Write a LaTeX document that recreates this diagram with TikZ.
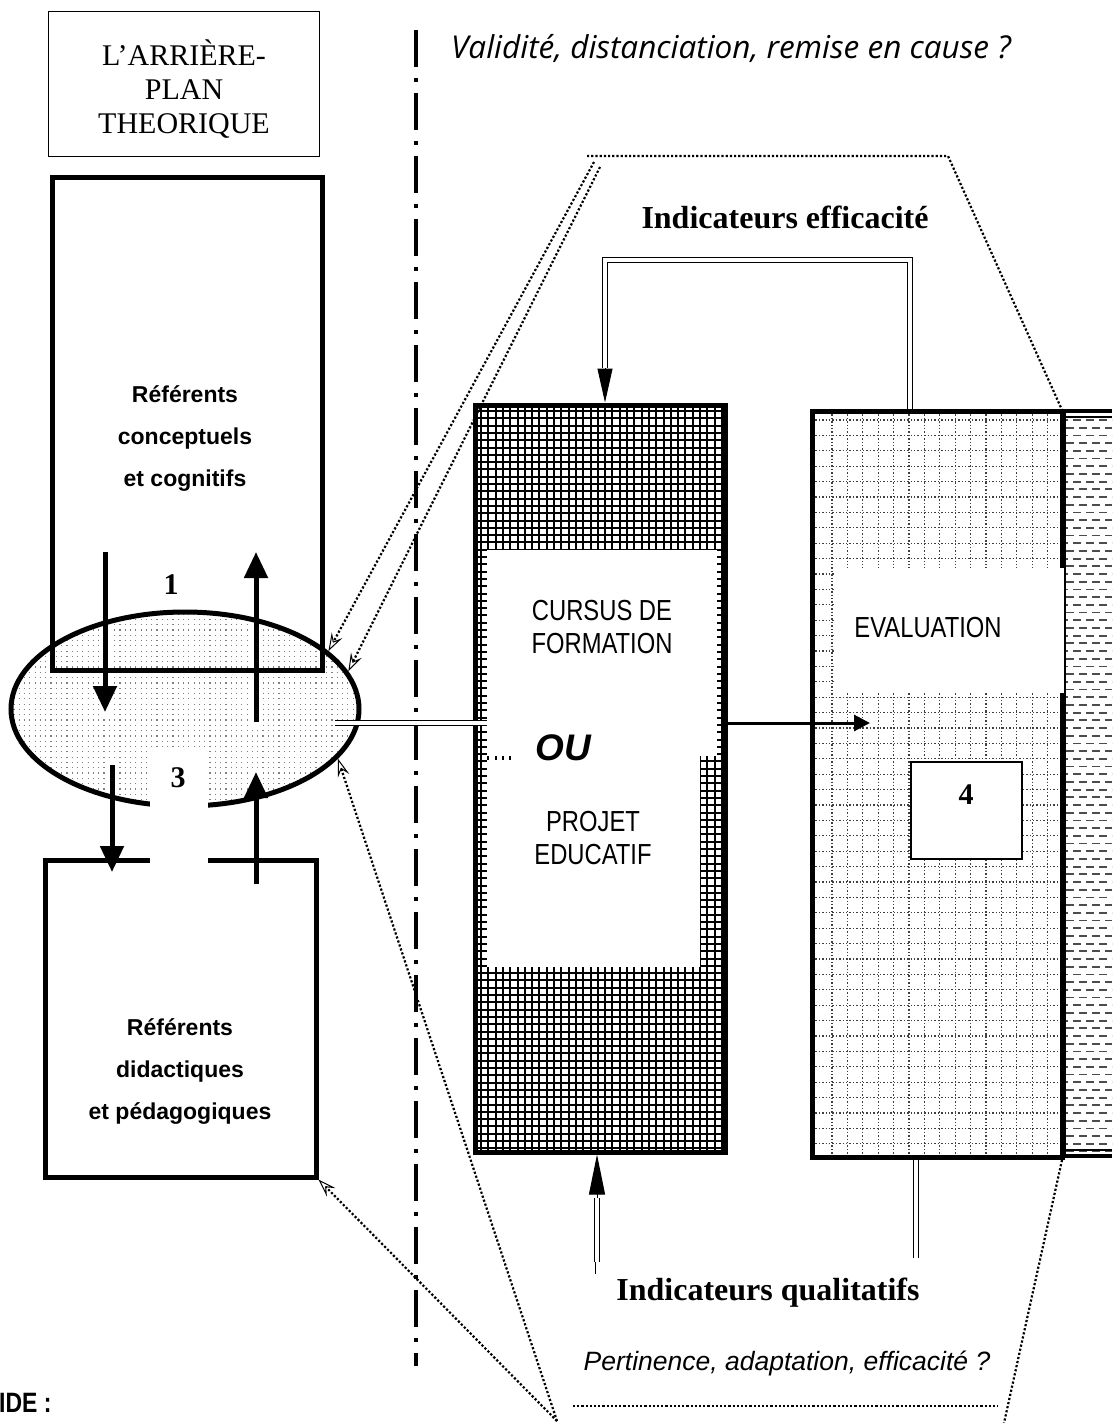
\documentclass[tikz,border=0pt]{standalone}
\usepackage{fontspec}
\setmainfont{Liberation Serif}
\setsansfont{Liberation Sans}
\newfontfamily\narrowsf{Liberation Sans}[FakeStretch=0.82]
\newfontfamily\handfont{Open Sans}
\usetikzlibrary{arrows.meta,positioning,shapes.geometric}
\tikzset{
  heavy/.style={draw, line width=5pt, inner sep=0pt},
  bigarrow/.style={line width=5pt, -{Triangle[length=26pt,width=23pt]}},
  dbl/.style={double, double distance=3.5pt, line width=1.6pt},
  hint/.style={line width=2.2pt, dash pattern=on 2.2pt off 2pt},
  hintarrow/.style={hint, -{Stealth[open,length=18pt,width=12pt,inset=7pt,line width=1pt]}},
  numlab/.style={font=\bfseries\fontsize{30}{30}\selectfont},
  capsf/.style={font=\narrowsf\fontsize{29}{33}\selectfont, align=center},
  refsf/.style={font=\sffamily\bfseries\fontsize{23}{42}\selectfont, align=center},
  indic/.style={font=\bfseries\fontsize{32}{32}\selectfont}
}
\begin{document}
\begin{tikzpicture}[x=1pt,y=-1pt]
\useasboundingbox (0,0) rectangle (1112,1423);

% left column
\node[draw, line width=1.5pt, minimum width=271pt, minimum height=145pt, inner sep=0pt] (theo) at (184,84) {};
\node[align=center, font=\fontsize{30}{34}\selectfont] (theoT) at (184,89) {L’ARRIÈRE-\\PLAN\\THEORIQUE};

\begin{scope}
\clip (185,709) ellipse [x radius=174, y radius=97];
\foreach \y in {614,619.3,...,806}
  \draw[black!50, line width=1.2pt, dash pattern=on 1.2pt off 4.1pt] (8,\y) -- (362,\y);
\draw[white, line width=13pt] (105,552) -- (105,716) (256,726) -- (256,552)
  (112,762) -- (112,872) (256,882) -- (256,768);
\end{scope}
\node[heavy, ellipse, minimum width=348pt, minimum height=194pt] (ell) at (185,709) {};
\node[heavy, minimum width=270pt, minimum height=492pt] (concep) at (187,424) {};
\node[heavy, minimum width=271pt, minimum height=317pt] (didac) at (180.5,1018.5) {};
\fill[white] (150,748) rectangle (208,868);

\node[refsf] (concepT) at (185,438) {Référents\\conceptuels\\et cognitifs};
\node[refsf] (didacT) at (180,1071) {Référents\\didactiques\\et pédagogiques};
\node[numlab] (one) at (171,585) {1};
\node[numlab] (three) at (178,778) {3};

\coordinate (a1) at (105,552); \coordinate (a1e) at (105,712);
\coordinate (a2) at (256,722); \coordinate (a2e) at (256,552);
\coordinate (a3) at (112,765); \coordinate (a3e) at (112,872);
\coordinate (a4) at (256,884); \coordinate (a4e) at (256,772);
\draw[bigarrow] (a1) -- (a1e);
\draw[bigarrow] (a2) -- (a2e);
\draw[bigarrow] (a3) -- (a3e);
\draw[bigarrow] (a4) -- (a4e);

% separation
\coordinate (sepTop) at (416,30); \coordinate (sepBot) at (416,1366);
\draw[line width=3.5pt, dash pattern=on 37pt off 11pt on 4pt off 11pt] (sepTop) -- (sepBot);

% cursus
\begin{scope}
\clip (475,405) rectangle (725,1152);
\foreach \x in {481,488.3,...,724} \draw[line width=2pt] (\x,405) -- (\x,1152);
\foreach \y in {411,418.3,...,1152} \draw[line width=2pt] (475,\y) -- (725,\y);
\end{scope}
\fill[white] (487,550) rectangle (717,756);
\fill[white] (487,760) rectangle (700,967);
\fill[white] (512,738) rectangle (700,778);
\node[heavy, minimum width=250pt, minimum height=747pt] (cursus) at (600,778.5) {};
\node[capsf] (cursusT) at (602,627) {CURSUS DE\\FORMATION};
\node[font=\sffamily\bfseries\itshape\fontsize{37}{37}\selectfont] (ou) at (563,748) {OU};
\node[capsf] (projetT) at (593,838) {PROJET\\EDUCATIF};

% evaluation
\begin{scope}
\clip (812,411) rectangle (1062,1157);
\foreach \x in {832,847.4,...,1060} \draw[black!75, line width=1.3pt, dash pattern=on 1.3pt off 2.1pt] (\x,411) -- (\x,1157);
\foreach \y in {420,435.4,...,1157} \draw[black!75, line width=1.3pt, dash pattern=on 1.3pt off 2.1pt] (812,\y) -- (1062,\y);
\end{scope}
\node[heavy, minimum width=250pt, minimum height=746pt] (eval) at (937,784) {};
\fill[white] (834,568) rectangle (1064,693);
\node[capsf] (evalT) at (928,628) {EVALUATION};
\node[draw, line width=2.5pt, fill=white, minimum width=111pt, minimum height=97pt] (four) at (966.5,810.5) {};
\node[numlab] (fourT) at (966,795) {4};

% last column
\begin{scope}
\clip (1065,411) rectangle (1112,1157);
\foreach \y [count=\i] in {420,427.7,...,1152}
  \draw[black!70, line width=1.8pt, dash pattern=on 8pt off 5pt, dash phase={mod(\i,2)*6}] (1066,\y) -- (1112,\y);
\end{scope}
\draw[line width=4pt] (1060,411) -- (1112,411) (1060,1156) -- (1112,1156);
\draw[line width=1.2pt] (1065,417) -- (1112,417) (1065,1150) -- (1112,1150) (1065,411) -- (1065,1157);

% connectors
\coordinate (ellOut) at (335,723); \coordinate (cursusIn) at (487,723);
\draw[dbl] (ellOut) -- (cursusIn);
\coordinate (evalIn) at (870,723);
\draw[line width=3pt, -{Triangle[length=16pt,width=16pt]}] (cursus.east |- evalIn) -- (evalIn);
\coordinate (evalUp) at (910,409); \coordinate (fbTop) at (605,260); \coordinate (fbDown) at (605,368);
\draw[dbl] (evalUp) |- (fbTop) -- (fbDown);
\draw[line width=1pt, -{Triangle[length=34pt,width=15pt]}] (fbDown) -- (cursus.north -| fbDown);
\coordinate (qualUp) at (597,1262); \coordinate (qualMid) at (597,1198);
\draw[line width=1pt] (595,1274) -- (595,1255);
\draw[dbl] (qualUp) -- (qualMid);
\draw[line width=1pt, -{Triangle[length=40pt,width=16pt]}] (qualMid) -- (cursus.south -| qualMid);
\coordinate (evalDn) at (916,1258);
\draw[dbl] (eval.south -| evalDn) -- (evalDn);

% dotted frame
\coordinate (hxTL) at (587,156); \coordinate (hxTR) at (948,156);
\coordinate (hxR) at (1062,410); \coordinate (hxRb) at (1062,1160);
\coordinate (hxB) at (1004,1423); \coordinate (hxBot) at (557,1421);
\coordinate (hxBl) at (573,1406); \coordinate (hxBr) at (998,1406);
\coordinate (hxL1) at (594,162); \coordinate (hxL2) at (600,167);
\draw[hint] (hxTL) -- (hxTR) -- (hxR);
\draw[hint] (hxRb) -- (hxB);
\draw[hint] (hxBl) -- (hxBr);
\draw[hintarrow] (hxL1) -- (ell.22);
\draw[hintarrow] (hxL2) -- (ell.13);
\draw[hintarrow] (hxBot) -- (ell.-18);
\draw[hintarrow] (hxBot) -- (didac.south east);

% texts
\node[font=\handfont\itshape\fontsize{31.5}{31.5}\selectfont] (valid) at (731,48) {Validité, distanciation, remise en cause ?};
\node[indic] (effic) at (785,217) {Indicateurs efficacité};
\node[indic] (qualit) at (768,1293) {Indicateurs qualitatifs};
\node[font=\sffamily\itshape\fontsize{26.5}{26.5}\selectfont] (pertin) at (787,1363) {Pertinence, adaptation, efficacité ?};
\node[font=\narrowsf\bfseries\fontsize{28}{28}\selectfont, anchor=west, inner sep=0pt] (legend) at (-1,1403) {IDE :};
\end{tikzpicture}
\end{document}
